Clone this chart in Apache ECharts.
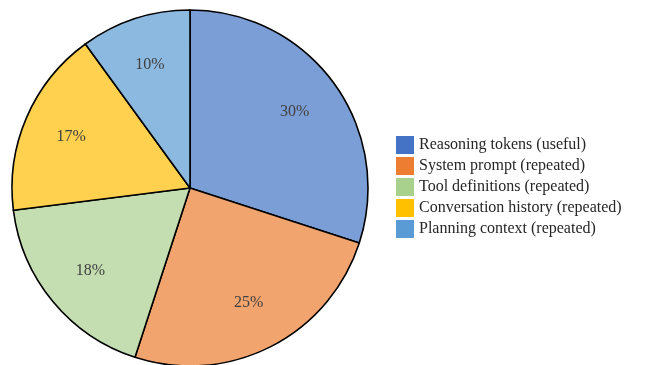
<!DOCTYPE html>
<html>
<head>
<meta charset="utf-8">
<script src="https://cdn.jsdelivr.net/npm/echarts@6/dist/echarts.min.js"></script>
<style>
  html, body { margin: 0; padding: 0; background: #ffffff; }
  #chart { width: 648px; height: 365px; }
</style>
</head>
<body>
<div id="chart"></div>
<script>
// Token budget share per context component
const categories = [
  'Reasoning tokens (useful)',
  'System prompt (repeated)',
  'Tool definitions (repeated)',
  'Conversation history (repeated)',
  'Planning context (repeated)'
];
const shares = [30, 25, 18, 17, 10];
const legendColors = ['#4472C4', '#ED7D31', '#A9D18E', '#FFC000', '#5B9BD5'];
const sliceColors = ['#7C9ED6', '#F2A46F', '#C4DEB1', '#FFD14E', '#8CB9E0'];

const FONT = '"Liberation Serif", "DejaVu Serif", serif';
const center = [190, 188];
const R = 178;

const sliceData = categories.map((name, i) => ({
  name,
  value: shares[i],
  itemStyle: { color: sliceColors[i] }
}));

const chart = echarts.init(document.getElementById('chart'), null, { renderer: 'canvas' });
chart.setOption({
  animation: false,
  legend: {
    orient: 'vertical',
    left: 396,
    top: 136,
    padding: 0,
    itemWidth: 18,
    itemHeight: 18,
    itemGap: 3,
    icon: 'rect',
    itemStyle: { borderWidth: 0 },
    textStyle: { fontFamily: FONT, fontSize: 16, color: '#262626' },
    data: categories.map((name, i) => ({
      name,
      itemStyle: { color: legendColors[i], borderWidth: 0 }
    }))
  },
  series: [
    {
      type: 'pie',
      center,
      radius: [0, R],
      startAngle: 90,
      clockwise: true,
      data: sliceData,
      itemStyle: { borderColor: '#000000', borderWidth: 1.6 },
      label: { show: false },
      labelLine: { show: false },
      emphasis: { disabled: true }
    },
    {
      // transparent ring that only carries the percentage labels
      type: 'pie',
      center,
      radius: [R * 0.42, R],
      startAngle: 90,
      clockwise: true,
      silent: true,
      data: sliceData.map(d => ({ name: d.name, value: d.value })),
      itemStyle: { color: 'rgba(0,0,0,0)', borderWidth: 0 },
      label: {
        show: true,
        position: 'inner',
        formatter: p => p.value + '%',
        fontFamily: FONT,
        fontSize: 16,
        color: '#404040'
      },
      labelLine: { show: false },
      emphasis: { disabled: true },
      legendHoverLink: false
    }
  ]
});
</script>
</body>
</html>
